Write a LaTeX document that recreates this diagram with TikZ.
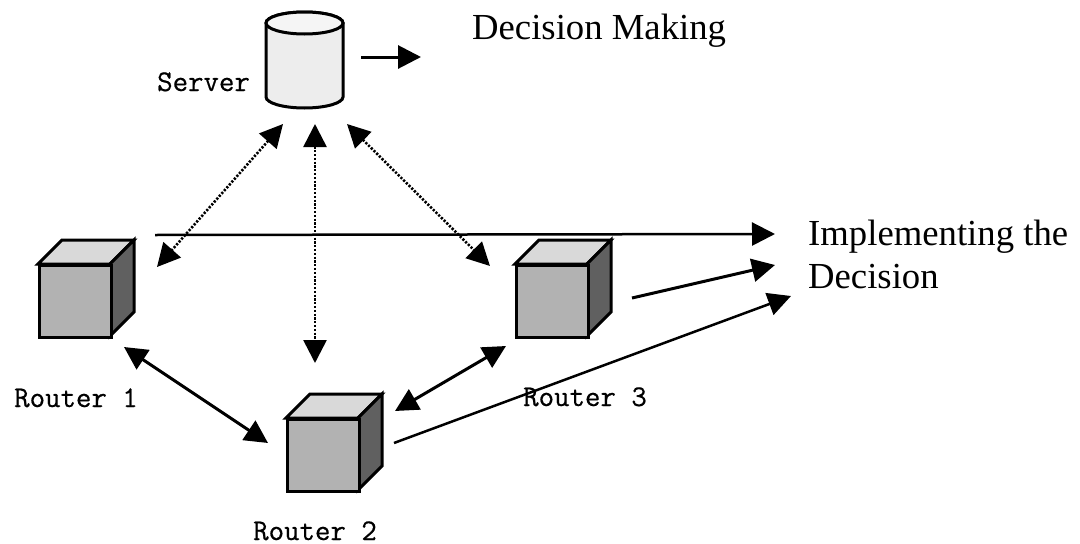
\documentclass[tikz,border=0pt]{standalone}
\usepackage{fontspec}
\setmainfont{Liberation Serif}
\newfontfamily\monofam[FakeBold=0.5]{Latin Modern Mono}
\usetikzlibrary{arrows.meta}
\tikzset{
  x=1pt,y=-1pt,
  face/.style={draw=black,line width=3pt,line join=miter,inner sep=0pt,minimum size=72pt,fill=gray!60},
  topface/.style={draw=black,line width=3pt,line join=miter,fill=gray!30},
  sideface/.style={draw=black,line width=3pt,line join=miter,fill=gray!75!black},
  cyl/.style={draw=black,line width=3pt,fill=gray!14},
  monolabel/.style={font=\monofam\fontsize{30}{30}\selectfont,inner sep=0pt,anchor=base west},
  seriflabel/.style={font=\fontsize{36.7}{36.7}\selectfont,inner sep=0pt,anchor=base west},
  head/.style={-{Triangle[length=23pt,width=23pt]}},
  bihead/.style={{Triangle[length=23pt,width=23pt]}-{Triangle[length=23pt,width=23pt]}},
  solidlink/.style={draw=black,line width=3pt},
  thinlink/.style={draw=black,line width=2.5pt},
  dotlink/.style={draw=black,line width=2.6pt,dash pattern=on 2.2pt off 1.6pt},
}
\newcommand{\routercube}[3]{%
  \fill[topface] (#2,#3) -- (#2+24,#3-24) -- (#2+96,#3-24) -- (#2+72,#3) -- cycle;
  \fill[sideface] (#2+72,#3) -- (#2+96,#3-24) -- (#2+96,#3+48) -- (#2+72,#3+72) -- cycle;
  \node[face,anchor=north west] (#1) at (#2,#3) {};
}
\begin{document}
\begin{tikzpicture}
\useasboundingbox (0,0) rectangle (1080,544);
% Server
\fill[cyl] (266,23) -- (266,97) arc[start angle=180,end angle=360,x radius=38.5pt,y radius=11pt]
  -- (343,23) arc[start angle=0,end angle=180,x radius=38.5pt,y radius=11pt] -- cycle;
\draw[cyl,fill=gray!8] (304.5,23) ellipse[x radius=38.5pt,y radius=11pt];
% Routers
\routercube{rone}{38}{264}
\routercube{rtwo}{286}{418}
\routercube{rthree}{515}{264}
% Labels
\node[monolabel] (lserver) at (157,91) {Server};
\node[monolabel] (lone) at (14,407) {Router 1};
\node[monolabel] (ltwo) at (253,540) {Router 2};
\node[monolabel] (lthree) at (523,406) {Router 3};
\node[seriflabel] (decide) at (472,39) {Decision Making};
\node[seriflabel] (impl) at (808,245) {Implementing the};
\node[seriflabel] (decision) at (808,288) {Decision};
% Connector ends
\coordinate (sout) at (361,57);
\coordinate (dmin) at (421,57);
\coordinate (sa) at (283,124);
\coordinate (sb) at (315,124);
\coordinate (sc) at (347,124);
\coordinate (ra) at (157,267);
\coordinate (rb) at (315,363);
\coordinate (rc) at (490,266);
\coordinate (hstart) at (155,235);
\coordinate (hend) at (775,234);
\coordinate (t3a) at (632,298);
\coordinate (t3b) at (775,265);
\coordinate (t2a) at (394,443);
\coordinate (t2b) at (791,296);
\coordinate (oneout) at (124,347);
\coordinate (twoin) at (268,443);
\coordinate (twoout) at (395,411);
\coordinate (threein) at (506,346);
% Connectors
\draw[solidlink,head] (sout) -- (dmin);
\draw[dotlink,bihead] (sa) -- (ra);
\draw[dotlink,bihead] (sb) -- (rb);
\draw[dotlink,bihead] (sc) -- (rc);
\draw[thinlink,head] (hstart) -- (hend);
\draw[solidlink,head] (t3a) -- (t3b);
\draw[thinlink,head] (t2a) -- (t2b);
\draw[solidlink,bihead] (oneout) -- (twoin);
\draw[solidlink,bihead] (twoout) -- (threein);
\end{tikzpicture}
\end{document}
